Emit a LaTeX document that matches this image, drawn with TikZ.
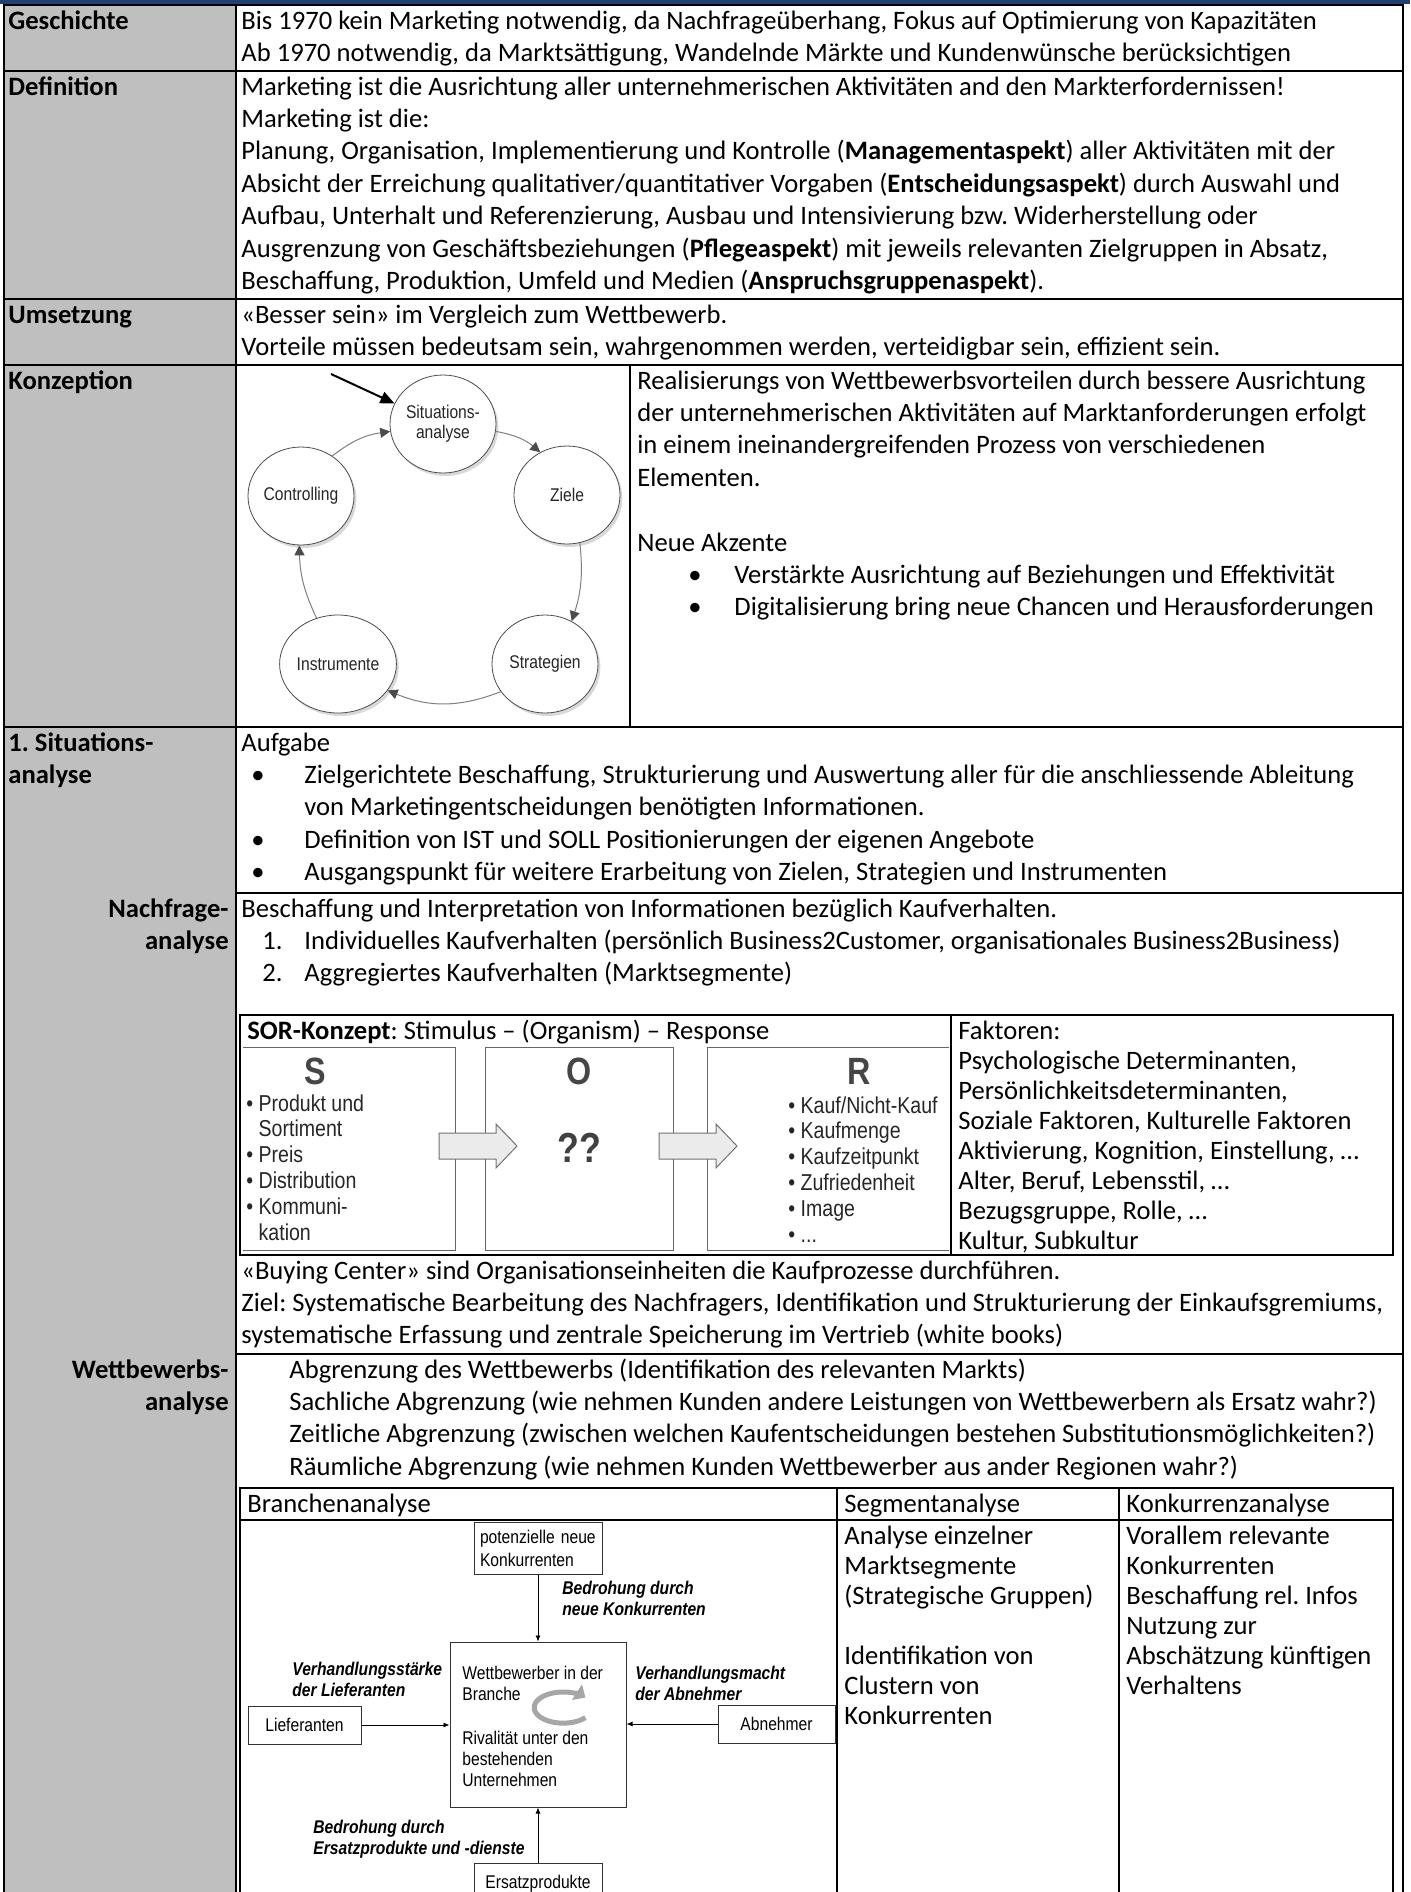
\documentclass[tikz,border=0pt]{standalone}
\usepackage{fontspec}
\setmainfont{Carlito}
\newfontfamily\arialn[FakeStretch=0.85]{Liberation Sans}
\definecolor{lgrey}{RGB}{191,191,191}
\definecolor{bandblue}{RGB}{36,64,110}
\definecolor{sorgrey}{RGB}{70,70,70}
\usetikzlibrary{arrows.meta,positioning,shapes.geometric,shadows}
\frenchspacing

\newcommand\txt{\fontsize{13.3}{16.2}\selectfont}
\newcommand\tabtxt{\fontsize{13.3}{15}\selectfont}
\newcommand\st{\rule{0pt}{11.8pt}}
\newcommand\bul{\makebox[26.5pt][l]{\textbullet}}
\newcommand\nrlab[1]{\makebox[21pt][l]{#1}}

\begin{document}
\begin{tikzpicture}[
  x=0.5pt, y=-0.5pt,
  cell/.style={anchor=north west,inner sep=0pt,align=left,font=\txt},
  tcell/.style={anchor=north west,inner sep=0pt,align=left,font=\tabtxt},
  rowlab/.style={anchor=north west,inner sep=0pt,align=left,font=\txt\bfseries},
  sublab/.style={anchor=north east,inner sep=0pt,align=right,font=\txt\bfseries},
  tline/.style={line width=1pt},
  cyc/.style={ellipse,draw=black!70,line width=0.4pt,fill=white,
              minimum width=53pt,minimum height=49pt,inner sep=0pt,align=center,
              font=\arialn\fontsize{9.2}{10}\selectfont,text=black!85,
              drop shadow={shadow xshift=1.2pt,shadow yshift=-1.5pt,fill=black!30}},
  cycarr/.style={-{Triangle[length=5pt,width=5pt,color=black!70]},draw=black!50,line width=0.5pt},
  blackarr/.style={-{Triangle[length=7pt,width=6pt]},line width=1pt,black},
  sorline/.style={draw=black!60,line width=0.5pt},
  sorlet/.style={inner sep=0pt,text=sorgrey,font=\arialn\bfseries\fontsize{19}{19}\selectfont},
  sorlist/.style={anchor=north west,inner sep=0pt,align=left,text=black!85,
                  font=\arialn\fontsize{11.5}{12.9}\selectfont},
  blockarr/.style={draw=black!55,fill=black!8,line width=0.5pt},
  pbox/.style={draw=black!80,line width=0.5pt,inner sep=0pt,
               font=\arialn\fontsize{9.2}{11.5}\selectfont},
  ptext/.style={anchor=north west,inner sep=0pt,align=left,
                font=\arialn\fontsize{9.2}{10.5}\selectfont},
  plab/.style={anchor=north west,inner sep=0pt,align=left,
               font=\arialn\bfseries\itshape\fontsize{9.2}{10.5}\selectfont},
  parr/.style={-{Latex[length=3pt,width=2.5pt]},line width=0.4pt},
  rivarr/.style={draw=black!35,line width=2.5pt,-{Triangle[length=5pt,width=9pt]}},
]
  \useasboundingbox (0,0) rectangle (1410,1892);
  \clip (0,0) rectangle (1410,1892);
  \fill[white] (0,0) rectangle (1410,1892);
  \fill[bandblue] (0,0) rectangle (1410,4);

  % left column
  \fill[lgrey] (4,5) rectangle (236,1892);

  % table rules
  \draw[tline] (4,1892) -- (4,5) -- (1403,5) -- (1403,1892);
  \draw[tline] (236,5) -- (236,1892);
  \foreach \y in {71,299,365,727} \draw[tline] (4,\y) -- (1403,\y);
  \foreach \y in {893,1354} \draw[tline] (236,\y) -- (1403,\y);
  \draw[tline] (630,365) -- (630,727);

  % row labels
  \node[rowlab] (lgesch) at (8,5) {\st Geschichte};
  \node[rowlab] (ldef) at (8,71) {\st Definition};
  \node[rowlab] (lums) at (8,299) {\st Umsetzung};
  \node[rowlab] (lkonz) at (8,365) {\st Konzeption};
  \node[rowlab] (lsit) at (8,727) {\st 1. Situations-\\analyse};
  \node[sublab] (lnach) at (229,893) {\st Nachfrage-\\analyse};
  \node[sublab] (lwett) at (229,1354) {\st Wettbewerbs-\\analyse};

  % Geschichte, Definition, Umsetzung
  \node[cell] (gtxt) at (241,5) {\st Bis 1970 kein Marketing notwendig, da Nachfrageüberhang, Fokus auf Optimierung von Kapazitäten\\
    Ab 1970 notwendig, da Marktsättigung, Wandelnde Märkte und Kundenwünsche berücksichtigen};
  \node[cell] (dtxt) at (241,71) {\st Marketing ist die Ausrichtung aller unternehmerischen Aktivitäten and den Markterfordernissen!\\
    Marketing ist die:\\
    Planung, Organisation, Implementierung und Kontrolle (\textbf{Managementaspekt}) aller Aktivitäten mit der\\
    Absicht der Erreichung qualitativer/quantitativer Vorgaben (\textbf{Entscheidungsaspekt}) durch Auswahl und\\
    Aufbau, Unterhalt und Referenzierung, Ausbau und Intensivierung bzw. Widerherstellung oder\\
    Ausgrenzung von Geschäftsbeziehungen (\textbf{Pflegeaspekt}) mit jeweils relevanten Zielgruppen in Absatz,\\
    Beschaffung, Produktion, Umfeld und Medien (\textbf{Anspruchsgruppenaspekt}).};
  \node[cell] (utxt) at (241,299) {\st «Besser sein» im Vergleich zum Wettbewerb.\\
    Vorteile müssen bedeutsam sein, wahrgenommen werden, verteidigbar sein, effizient sein.};

  % Konzeption: cycle
  \node[cyc] (sit) at (443,424) {Situations-\\analyse};
  \node[cyc] (ziel) at (567,495) {Ziele};
  \node[cyc] (strat) at (545,664) {Strategien};
  \node[cyc] (instr) at (338,664) {Instrumente};
  \node[cyc] (ctrl) at (301,496) {Controlling};
  \draw[cycarr] (sit.-8) to[bend left=15] (ziel.122);
  \draw[cycarr] (ziel.-75) to[bend left=12] (strat.58);
  \draw[cycarr] (strat.-148) to[bend left=22] (instr.-28);
  \draw[cycarr] (instr.115) to[bend left=12] (ctrl.-92);
  \draw[cycarr] (ctrl.52) to[bend left=15] (sit.188);
  \coordinate (cstart) at (331,374);
  \draw[blackarr] (cstart) -- (sit.157);

  % Konzeption: text
  \node[cell] (ktxt) at (637,365) {\st Realisierungs von Wettbewerbsvorteilen durch bessere Ausrichtung\\
    der unternehmerischen Aktivitäten auf Marktanforderungen erfolgt\\
    in einem ineinandergreifenden Prozess von verschiedenen\\
    Elementen.\\[16.2pt]
    Neue Akzente\\
    \hspace*{25.5pt}\makebox[23pt][l]{\textbullet}Verstärkte Ausrichtung auf Beziehungen und Effektivität\\
    \hspace*{25.5pt}\makebox[23pt][l]{\textbullet}Digitalisierung bring neue Chancen und Herausforderungen};

  % Situationsanalyse
  \node[cell] (stxt) at (241,727) {\st Aufgabe\\
    \hspace*{5pt}\bul Zielgerichtete Beschaffung, Strukturierung und Auswertung aller für die anschliessende Ableitung\\
    \hspace*{31.5pt}von Marketingentscheidungen benötigten Informationen.\\
    \hspace*{5pt}\bul Definition von IST und SOLL Positionierungen der eigenen Angebote\\
    \hspace*{5pt}\bul Ausgangspunkt für weitere Erarbeitung von Zielen, Strategien und Instrumenten};

  % Nachfrageanalyse
  \node[cell] (ntxt) at (241,893) {\st Beschaffung und Interpretation von Informationen bezüglich Kaufverhalten.\\
    \hspace*{10.5pt}\nrlab{1.}Individuelles Kaufverhalten (persönlich Business2Customer, organisationales Business2Business)\\
    \hspace*{10.5pt}\nrlab{2.}Aggregiertes Kaufverhalten (Marktsegmente)};

  % SOR table
  \draw[tline] (240,1015) rectangle (1393,1255);
  \draw[tline] (951,1015) -- (951,1255);
  \node[tcell] (sorh) at (247,1015) {\st\textbf{SOR-Konzept}: Stimulus – (Organism) – Response};
  \draw[sorline] (243,1047) -- (455,1047) -- (455,1250) -- (243,1250);
  \draw[sorline] (485,1047) rectangle (673,1250);
  \draw[sorline] (949,1047) -- (707,1047) -- (707,1250) -- (949,1250);
  \node[sorlet] (sl) at (315,1071) {S};
  \node[sorlet] (ol) at (579,1071) {O};
  \node[sorlet] (rl) at (859,1071) {R};
  \node[sorlist] (slist) at (246,1094) {• Produkt und\\\phantom{• }Sortiment\\• Preis\\• Distribution\\• Kommuni-\\\phantom{• }kation};
  \node[sorlist] (rlist) at (788,1096) {• Kauf/Nicht-Kauf\\• Kaufmenge\\• Kaufzeitpunkt\\• Zufriedenheit\\• Image\\• ...};
  \node[inner sep=0pt,text=black!75,font=\arialn\bfseries\fontsize{21}{21}\selectfont] (qq) at (579,1148) {??};
  \draw[blockarr] (439,1133) -- (496,1133) -- (496,1124) -- (517,1146) -- (496,1168) -- (496,1159) -- (439,1159) -- cycle;
  \draw[blockarr] (659,1133) -- (716,1133) -- (716,1124) -- (737,1146) -- (716,1168) -- (716,1159) -- (659,1159) -- cycle;
  \node[tcell] (fak) at (958,1015) {\st Faktoren:\\
    Psychologische Determinanten,\\
    Persönlichkeitsdeterminanten,\\
    Soziale Faktoren, Kulturelle Faktoren\\
    Aktivierung, Kognition, Einstellung, …\\
    Alter, Beruf, Lebensstil, …\\
    Bezugsgruppe, Rolle, …\\
    Kultur, Subkultur};

  \node[cell] (btxt) at (241,1255) {\st «Buying Center» sind Organisationseinheiten die Kaufprozesse durchführen.\\
    Ziel: Systematische Bearbeitung des Nachfragers, Identifikation und Strukturierung der Einkaufsgremiums,\\
    systematische Erfassung und zentrale Speicherung im Vertrieb (white books)};

  % Wettbewerbsanalyse
  \node[cell] (wtxt) at (289,1354) {\st Abgrenzung des Wettbewerbs (Identifikation des relevanten Markts)\\
    Sachliche Abgrenzung (wie nehmen Kunden andere Leistungen von Wettbewerbern als Ersatz wahr?)\\
    Zeitliche Abgrenzung (zwischen welchen Kaufentscheidungen bestehen Substitutionsmöglichkeiten?)\\
    Räumliche Abgrenzung (wie nehmen Kunden Wettbewerber aus ander Regionen wahr?)};

  \draw[tline] (240,1892) -- (240,1488) -- (1393,1488) -- (1393,1892);
  \draw[tline] (240,1520) -- (1393,1520);
  \draw[tline] (837,1488) -- (837,1892);
  \draw[tline] (1119,1488) -- (1119,1892);
  \node[tcell] (bhead) at (247,1488) {\st Branchenanalyse};
  \node[tcell] (shead) at (844,1488) {\st Segmentanalyse};
  \node[tcell] (khead) at (1126,1488) {\st Konkurrenzanalyse};
  \node[tcell] (seg) at (844,1520) {\st Analyse einzelner\\Marktsegmente\\(Strategische Gruppen)\\[15pt]
    Identifikation von\\Clustern von\\Konkurrenten};
  \node[tcell] (konk) at (1126,1520) {\st Vorallem relevante\\Konkurrenten\\Beschaffung rel. Infos\\
    Nutzung zur\\Abschätzung künftigen\\Verhaltens};

  % Branchenanalyse (five forces)
  \node[pbox,minimum width=64pt,minimum height=26pt,text width=58pt,align=left] (pot) at (538,1548)
    {potenzielle neue\\Konkurrenten};
  \node[pbox,minimum width=88pt,minimum height=82.5pt] (wett) at (538,1724.5) {};
  \node[pbox,minimum width=56.5pt,minimum height=19pt] (lief) at (304.5,1725) {Lieferanten};
  \node[pbox,minimum width=58.5pt,minimum height=19pt] (abn) at (776.5,1724) {Abnehmer};
  \node[pbox,minimum width=64pt,minimum height=21pt] (ers) at (538,1884) {Ersatzprodukte};

  \node[ptext] (wtop) at (462,1666) {Wettbewerber in der\\Branche};
  \node[ptext] (wbot) at (462,1731) {Rivalität unter den\\bestehenden\\Unternehmen};
  \draw[rivarr] (585.4,1717.6) arc[start angle=-40,end angle=-320,x radius=14.5pt,y radius=7.8pt];

  \draw[parr] (pot.south) -- (wett.north);
  \draw[parr] (lief.east) -- (lief.east -| wett.west);
  \draw[parr] (abn.west) -- (abn.west -| wett.east);
  \draw[parr] (ers.north) -- (wett.south);

  \node[plab] (lblneu) at (562,1581) {Bedrohung durch\\neue Konkurrenten};
  \node[plab] (lbllief) at (292,1662) {Verhandlungsstärke\\der Lieferanten};
  \node[plab] (lblabn) at (635,1666) {Verhandlungsmacht\\der Abnehmer};
  \node[plab] (lblers) at (313,1820) {Bedrohung durch\\Ersatzprodukte und -dienste};
\end{tikzpicture}
\end{document}
